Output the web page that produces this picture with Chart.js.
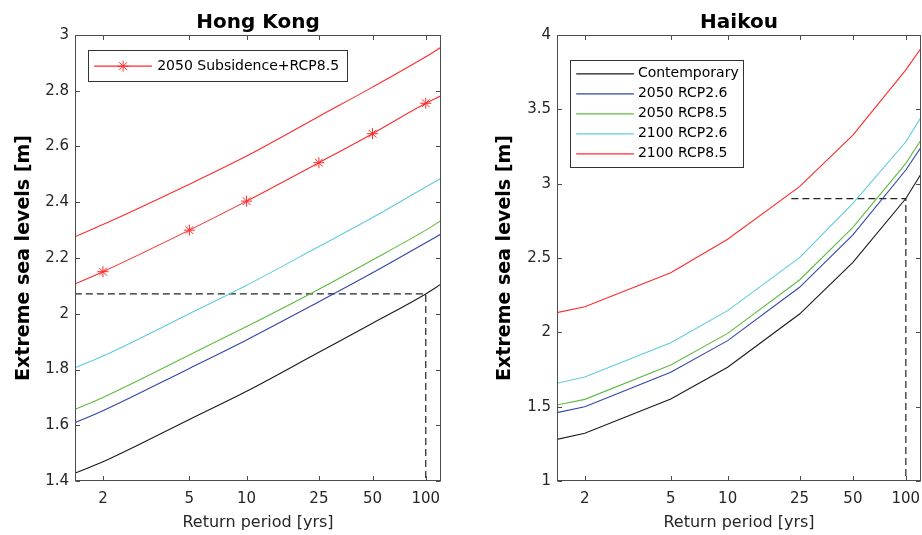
<!DOCTYPE html>
<html>
<head>
<meta charset="utf-8">
<script src="https://cdn.jsdelivr.net/npm/chart.js@4.4.1/dist/chart.umd.min.js"></script>
<style>
  html, body { margin: 0; padding: 0; background: #fff; }
  body { width: 922px; height: 535px; position: relative; overflow: hidden; }
  .panel { position: absolute; top: 0; height: 535px; }
  #hk-box { left: 0; width: 460px; }
  #hai-box { left: 460px; width: 462px; }
</style>
</head>
<body>
<div class="panel" id="hk-box"><canvas id="hkChart" width="460" height="535"></canvas></div>
<div class="panel" id="hai-box"><canvas id="haiChart" width="462" height="535"></canvas></div>
<script>
// return periods [yrs] where the curves were read (first and last = axis edges)
const returnPeriods = [1.58, 2, 5, 10, 25, 50, 100, 122];
const xTickPeriods = [2, 5, 10, 25, 50, 100];
const seriesNames = ['Contemporary', '2050 RCP2.6', '2050 RCP8.5', '2100 RCP2.6', '2100 RCP8.5'];
const seriesColors = ['#1a1a1a', '#3344aa', '#5fbb3f', '#5fcbe0', '#ff2a2a'];

// Hong Kong
const hkContemporary = [1.428, 1.469, 1.621, 1.722, 1.862, 1.966, 2.071, 2.106];
const hk2050rcp26 = [1.609, 1.652, 1.804, 1.906, 2.043, 2.147, 2.255, 2.286];
const hk2050rcp85 = [1.657, 1.700, 1.852, 1.954, 2.088, 2.193, 2.300, 2.334];
const hk2100rcp26 = [1.806, 1.848, 2.000, 2.102, 2.241, 2.345, 2.455, 2.486];
const hk2100rcp85 = [2.276, 2.320, 2.465, 2.566, 2.708, 2.813, 2.922, 2.956];
const hkSubsidence = [2.107, 2.151, 2.300, 2.404, 2.542, 2.646, 2.755, 2.782];
const hkYTicks = [1.4, 1.6, 1.8, 2, 2.2, 2.4, 2.6, 2.8, 3];
const hkDashX = [1.58, 100, 100];
const hkDashY = [2.071, 2.071, 1.4];

// Haikou
const haiContemporary = [1.280, 1.321, 1.552, 1.765, 2.123, 2.471, 2.900, 3.065];
const hai2050rcp26 = [1.460, 1.500, 1.731, 1.944, 2.303, 2.655, 3.092, 3.245];
const hai2050rcp85 = [1.511, 1.549, 1.780, 1.993, 2.352, 2.706, 3.137, 3.294];
const hai2100rcp26 = [1.657, 1.700, 1.930, 2.146, 2.502, 2.868, 3.282, 3.446];
const hai2100rcp85 = [2.132, 2.172, 2.401, 2.626, 2.980, 3.327, 3.765, 3.910];
const haiYTicks = [1, 1.5, 2, 2.5, 3, 3.5, 4];
const haiDashX = [22.5, 100, 100];
const haiDashY = [2.9, 2.9, 1];

const FAMILY = '"DejaVu Sans", sans-serif';
const TXT = '#262626';
Chart.defaults.font.family = FAMILY;

// x axis is linear in the Gumbel reduced variate
function gumbel(T) { return -Math.log(-Math.log(1 - 1 / T)); }
function pts(xs, ys) { return xs.map((T, i) => ({ x: gumbel(T), y: ys[i] })); }

function lineSet(label, color, ys, smooth, extra) {
    return Object.assign({
        label: label, data: pts(returnPeriods, ys),
        borderColor: color, backgroundColor: color, borderWidth: 1.1,
        pointRadius: 0, fill: false, xAxisID: 'x', yAxisID: 'y',
        tension: 0, cubicInterpolationMode: smooth ? 'monotone' : 'default'
    }, extra || {});
}

function dashSet(xs, ys) {
    return { label: '', data: pts(xs, ys), borderColor: '#222', borderWidth: 1.2, borderDash: [7, 4],
             pointRadius: 0, fill: false, xAxisID: 'x', yAxisID: 'y', tension: 0 };
}

// box round the axes + inward ticks on all four sides
const boxPlugin = {
    id: 'matlabBox',
    afterDatasetsDraw(chart) {
        const { ctx, chartArea: a, scales } = chart;
        const L = 4.5;
        const l = Math.round(a.left) + 0.5, r = Math.round(a.right) - 0.5;
        const t = Math.round(a.top) + 0.5, b = Math.round(a.bottom) - 0.5;
        ctx.save();
        ctx.strokeStyle = '#4d4d4d';
        ctx.lineWidth = 1;
        ctx.strokeRect(l, t, r - l, b - t);
        ctx.beginPath();
        scales.x.ticks.forEach(tk => {
            const px = Math.round(scales.x.getPixelForValue(tk.value)) + 0.5;
            ctx.moveTo(px, b); ctx.lineTo(px, b - L);
            ctx.moveTo(px, t); ctx.lineTo(px, t + L);
        });
        scales.y.ticks.forEach(tk => {
            const py = Math.round(scales.y.getPixelForValue(tk.value)) + 0.5;
            ctx.moveTo(l, py); ctx.lineTo(l + L, py);
            ctx.moveTo(r, py); ctx.lineTo(r - L, py);
        });
        ctx.stroke();
        ctx.restore();
    }
};

// legend box inside the axes, line sample + marker like matlab
const legendPlugin = {
    id: 'insetLegend',
    afterDraw(chart, args, o) {
        const items = chart.data.datasets.filter(d => d.inLegend);
        if (!items.length) return;
        const { ctx, chartArea: a } = chart;
        ctx.save();
        ctx.font = '14px ' + FAMILY;
        const textW = Math.max(...items.map(d => ctx.measureText(d.label).width));
        const x0 = Math.round(a.left + o.dx) + 0.5, y0 = Math.round(a.top + o.dy) + 0.5;
        const w = Math.round(o.textX + textW + o.padRight);
        const h = Math.round(o.rowTop * 2 + (items.length - 1) * o.rowGap);
        ctx.fillStyle = '#fff';
        ctx.fillRect(x0, y0, w, h);
        ctx.strokeStyle = '#333';
        ctx.lineWidth = 1;
        ctx.strokeRect(x0, y0, w, h);
        items.forEach((d, i) => {
            const y = y0 + o.rowTop + i * o.rowGap;
            ctx.strokeStyle = d.borderColor;
            ctx.lineWidth = 1.3;
            ctx.beginPath();
            ctx.moveTo(x0 + o.lineX0, y); ctx.lineTo(x0 + o.lineX1, y);
            ctx.stroke();
            if (d.pointStyle) {
                ctx.lineWidth = 1;
                Chart.helpers.drawPoint(ctx, { pointStyle: d.pointStyle, radius: 5.5, borderWidth: 1, rotation: 0 },
                    x0 + (o.lineX0 + o.lineX1) / 2, y);
            }
            ctx.fillStyle = '#000';
            ctx.textBaseline = 'middle';
            ctx.textAlign = 'left';
            ctx.fillText(d.label, x0 + o.textX, y);
        });
        ctx.restore();
    }
};

function makeOptions(title, yMin, yMax, yTicks, yAxisWidth, yTitlePad, rightPad, legendOpts) {
    return {
        responsive: false,
        animation: false,
        layout: { padding: { left: 0, right: rightPad, top: 0, bottom: 0 } },
        plugins: { legend: { display: false }, tooltip: { enabled: false }, insetLegend: legendOpts },
        scales: {
            x: {
                type: 'linear', position: 'bottom', min: 0, max: 4.8,
                afterBuildTicks: s => { s.ticks = xTickPeriods.map(T => ({ value: gumbel(T) })); },
                afterFit: s => { s.height = 54; s.paddingLeft = 0; s.paddingRight = 0; },
                grid: { display: false, drawTicks: false }, border: { display: false },
                ticks: { callback: (v, i) => String(xTickPeriods[i]), font: { size: 15 }, color: TXT,
                         padding: 9, maxRotation: 0, autoSkip: false },
                title: { display: true, text: 'Return period [yrs]', font: { size: 16 }, color: TXT,
                         padding: { top: 0, bottom: 3 } }
            },
            top: {
                type: 'linear', position: 'top', min: 0, max: 1,
                afterFit: s => { s.height = 35; },
                grid: { display: false, drawTicks: false }, border: { display: false },
                ticks: { display: false },
                title: { display: true, text: title, font: { size: 20, weight: 'bold' }, color: '#000',
                         padding: { top: 11, bottom: 0 } }
            },
            y: {
                type: 'linear', min: yMin, max: yMax,
                afterBuildTicks: s => { s.ticks = yTicks.map(v => ({ value: v })); },
                afterFit: s => { s.width = yAxisWidth; },
                grid: { display: false, drawTicks: false }, border: { display: false },
                ticks: { callback: v => String(v), font: { size: 15 }, color: TXT, padding: 6, autoSkip: false },
                title: { display: true, text: 'Extreme sea levels [m]', font: { size: 19, weight: 'bold' },
                         color: '#000', padding: { top: yTitlePad, bottom: 0 } }
            }
        }
    };
}

const hkSets = [
    lineSet(seriesNames[0], seriesColors[0], hkContemporary, true),
    lineSet(seriesNames[1], seriesColors[1], hk2050rcp26, true),
    lineSet(seriesNames[2], seriesColors[2], hk2050rcp85, true),
    lineSet(seriesNames[3], seriesColors[3], hk2100rcp26, true),
    lineSet(seriesNames[4], seriesColors[4], hk2100rcp85, true),
    lineSet('2050 Subsidence+RCP8.5', seriesColors[4], hkSubsidence, true, {
        inLegend: true, pointStyle: 'star',
        pointRadius: returnPeriods.map(T => xTickPeriods.includes(T) ? 5.5 : 0),
        pointBorderColor: seriesColors[4], pointBorderWidth: 1
    }),
    dashSet(hkDashX, hkDashY)
];

const haiSets = [
    lineSet(seriesNames[0], seriesColors[0], haiContemporary, false, { inLegend: true }),
    lineSet(seriesNames[1], seriesColors[1], hai2050rcp26, false, { inLegend: true }),
    lineSet(seriesNames[2], seriesColors[2], hai2050rcp85, false, { inLegend: true }),
    lineSet(seriesNames[3], seriesColors[3], hai2100rcp26, false, { inLegend: true }),
    lineSet(seriesNames[4], seriesColors[4], hai2100rcp85, false, { inLegend: true }),
    dashSet(haiDashX, haiDashY)
];

new Chart(document.getElementById('hkChart'), {
    type: 'line',
    data: { datasets: hkSets },
    options: makeOptions('Hong Kong', 1.4, 3, hkYTicks, 75, 12.6, 19,
        { dx: 13, dy: 14.5, rowTop: 15.7, rowGap: 20, lineX0: 5.7, lineX1: 63.5, textX: 68.7, padRight: 8 }),
    plugins: [boxPlugin, legendPlugin]
});

new Chart(document.getElementById('haiChart'), {
    type: 'line',
    data: { datasets: haiSets },
    options: makeOptions('Haikou', 1, 4, haiYTicks, 97, 33.6, 1,
        { dx: 12.6, dy: 25, rowTop: 13.3, rowGap: 20, lineX0: 5.7, lineX1: 63.4, textX: 67.4, padRight: 5 }),
    plugins: [boxPlugin, legendPlugin]
});
</script>
</body>
</html>
